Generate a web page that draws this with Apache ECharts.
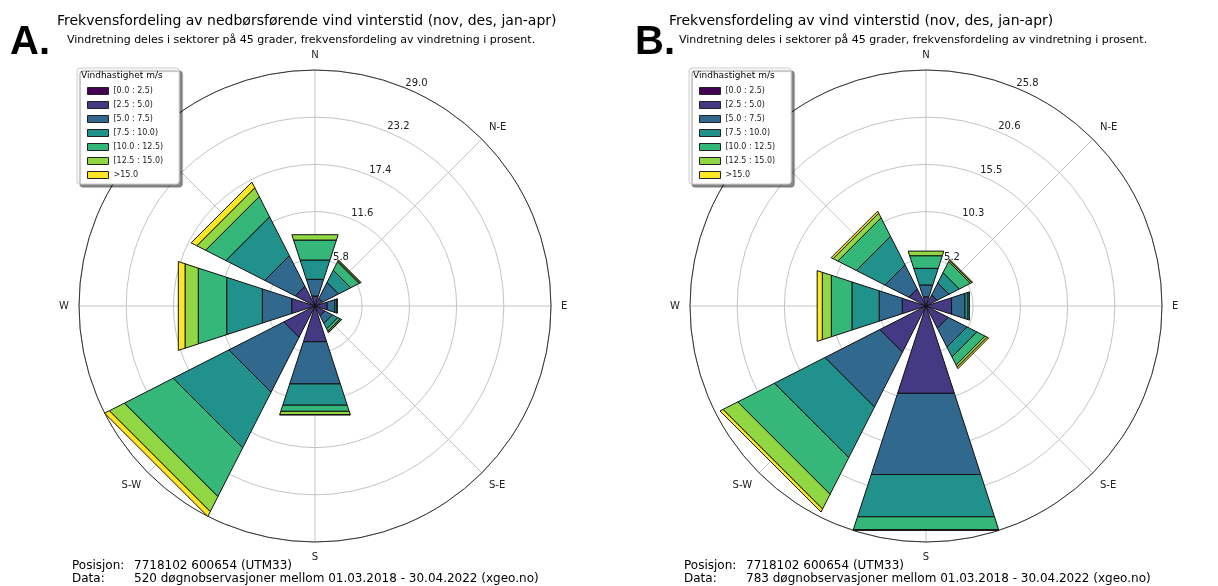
<!DOCTYPE html>
<html>
<head>
<meta charset="utf-8">
<title>Vindrose</title>
<script src="https://cdn.jsdelivr.net/npm/echarts@6/dist/echarts.min.js"></script>
<style>
html, body { margin: 0; padding: 0; background: #fff; }
#main { width: 1218px; height: 586px; }
</style>
</head>
<body>
<div id="main"></div>
<script>
var retninger = ['N', 'N-E', 'E', 'S-E', 'S', 'S-W', 'W', 'N-W'];
var vinkler = [0, 45, 90, 135, 180, 225, 270, 315];
var hastighet = ['[0.0 : 2.5)', '[2.5 : 5.0)', '[5.0 : 7.5)', '[7.5 : 10.0)', '[10.0 : 12.5)', '[12.5 : 15.0)', '>15.0'];
var farger = ['#440154', '#443983', '#31688e', '#21918c', '#35b779', '#90d743', '#fde725'];

// A: nedbørsførende vind, prosent per hastighetsklasse (N, N-E, E, S-E, S, S-W, W, N-W)
var nedbor0 = [0.1, 0.1, 0.1, 0.1, 0.1, 0.1, 0.1, 0.1];
var nedbor1 = [1.19, 0.95, 1.47, 1.26, 4.52, 4.21, 2.91, 2.63];
var nedbor2 = [2.16, 2.21, 1.0, 1.05, 5.45, 7.57, 3.79, 4.21];
var nedbor3 = [2.49, 1.68, 0.26, 0.74, 2.75, 7.68, 4.61, 5.36];
var nedbor4 = [2.58, 1.16, 0.05, 0.32, 0.79, 6.73, 3.67, 2.79];
var nedbor5 = [0.69, 0.16, 0, 0.16, 0.42, 2.07, 1.71, 1.21];
var nedbor6 = [0, 0.1, 0, 0.05, 0.05, 0.66, 0.87, 0.79];
var ringerA = [5.8, 11.6, 17.4, 23.2, 29.0];

// B: all vind
var vind0 = [0.1, 0.1, 0.1, 0.1, 0.1, 0.1, 0.1, 0.1];
var vind1 = [0.95, 1.26, 2.84, 2.63, 9.94, 5.57, 2.63, 2.0];
var vind2 = [1.37, 1.47, 1.54, 2.31, 9.33, 6.73, 2.65, 2.94];
var vind3 = [1.91, 1.26, 0.36, 1.21, 4.86, 6.2, 3.13, 3.51];
var vind4 = [1.45, 1.37, 0.15, 1.0, 1.47, 4.5, 2.37, 2.27];
var vind5 = [0.53, 0.16, 0, 0.26, 0.1, 1.81, 1.04, 0.58];
var vind6 = [0, 0.1, 0, 0.18, 0, 0.37, 0.59, 0.24];
var ringerB = [5.2, 10.3, 15.5, 20.6, 25.8];

var klasserA = [nedbor0, nedbor1, nedbor2, nedbor3, nedbor4, nedbor5, nedbor6];
var klasserB = [vind0, vind1, vind2, vind3, vind4, vind5, vind6];

var font = 'DejaVu Sans';

function tegnSektor(params, api) {
    var v = api.value(0);
    var r0 = api.value(1);
    var r1 = api.value(2);
    if (!(r1 > r0)) return;
    var halv = 18;
    return {
        type: 'polygon',
        shape: {
            points: [
                api.coord([r0, v - halv]),
                api.coord([r0, v + halv]),
                api.coord([r1, v + halv]),
                api.coord([r1, v - halv])
            ]
        },
        style: { fill: api.visual('color'), stroke: '#111', lineWidth: 1 }
    };
}

function lagSerier(klasser, polarIndex) {
    var serier = [];
    var sum = [0, 0, 0, 0, 0, 0, 0, 0];
    for (var b = 0; b < klasser.length; b++) {
        var data = [];
        for (var d = 0; d < vinkler.length; d++) {
            data.push([vinkler[d], sum[d], sum[d] + klasser[b][d]]);
            sum[d] += klasser[b][d];
        }
        serier.push({
            type: 'custom',
            name: hastighet[b],
            coordinateSystem: 'polar',
            polarIndex: polarIndex,
            itemStyle: { color: farger[b] },
            encode: { angle: 0, radius: 2 },
            renderItem: tegnSektor,
            data: data
        });
    }
    return serier;
}

function vinkelAkse(i, vis) {
    return {
        polarIndex: i,
        type: 'value',
        min: 0, max: 360, interval: 45,
        startAngle: vis ? 90 : 67.5,
        clockwise: true,
        show: vis,
        axisLine: { lineStyle: { color: '#333', width: 1 } },
        axisTick: { show: false },
        axisLabel: {
            margin: 10, fontSize: 10, color: '#222', fontFamily: font,
            formatter: function (v) { return v >= 360 ? '' : retninger[Math.round(v / 45) % 8]; }
        },
        splitLine: { show: true, lineStyle: { color: '#c4c4c4', width: 1 } }
    };
}

function radiusAkse(i, ringer, etiketter) {
    var maks = ringer[ringer.length - 1];
    return {
        polarIndex: i,
        type: 'value',
        z: etiketter ? 10 : 0,
        min: 0, max: maks, interval: maks / 5,
        axisLine: { show: false },
        axisTick: { show: false },
        axisLabel: {
            show: etiketter, showMinLabel: false, margin: 0,
            align: 'left', verticalAlign: 'bottom',
            fontSize: 10, color: '#222', fontFamily: font,
            formatter: function (v) {
                var k = Math.round(v / (maks / 5));
                return k > 0 ? ringer[k - 1].toFixed(1) : '';
            }
        },
        splitLine: { show: !etiketter, lineStyle: { color: '#c4c4c4', width: 1 } }
    };
}

function tekst(t, x, y, size, ekstra) {
    var stil = { fontSize: size, fontWeight: 'normal', color: '#000', fontFamily: font };
    for (var k in ekstra) stil[k] = ekstra[k];
    return { text: t, left: x, top: y, padding: 0, textStyle: stil };
}

function legende(x) {
    return {
        orient: 'vertical',
        left: x, top: 68,
        data: hastighet,
        icon: 'rect',
        itemWidth: 21, itemHeight: 7, itemGap: 6,
        padding: [19, 16, 5, 10],
        backgroundColor: '#fff',
        borderColor: '#ccc', borderWidth: 1, borderRadius: 3,
        shadowColor: 'rgba(0,0,0,0.45)', shadowOffsetX: 3, shadowOffsetY: 3, shadowBlur: 1,
        itemStyle: { borderColor: '#222', borderWidth: 1 },
        textStyle: { fontSize: 8, color: '#222', fontFamily: font },
        selectedMode: false
    };
}

var undertittel = 'Vindretning deles i sektorer på 45 grader, frekvensfordeling av vindretning i prosent.';

var option = {
    animation: false,
    backgroundColor: '#fff',
    title: [
        tekst('A.', 10, 23, 40, { fontWeight: 'bold', fontFamily: 'Liberation Sans' }),
        tekst('B.', 635, 23, 40, { fontWeight: 'bold', fontFamily: 'Liberation Sans' }),
        tekst('Frekvensfordeling av nedbørsførende vind vinterstid (nov, des, jan-apr)', 57, 14, 14),
        tekst('Frekvensfordeling av vind vinterstid (nov, des, jan-apr)', 669, 14, 14),
        tekst(undertittel, 67, 35, 11),
        tekst(undertittel, 679, 35, 11),
        tekst('Vindhastighet m/s', 81, 71, 9),
        tekst('Vindhastighet m/s', 693, 71, 9),
        tekst('Posisjon:\nData:', 72, 559, 12, { lineHeight: 13 }),
        tekst('7718102 600654 (UTM33)\n520 døgnobservasjoner mellom 01.03.2018 - 30.04.2022 (xgeo.no)', 134, 559, 12, { lineHeight: 13 }),
        tekst('Posisjon:\nData:', 684, 559, 12, { lineHeight: 13 }),
        tekst('7718102 600654 (UTM33)\n783 døgnobservasjoner mellom 01.03.2018 - 30.04.2022 (xgeo.no)', 746, 559, 12, { lineHeight: 13 })
    ],
    legend: [legende(77), legende(689)],
    polar: [
        { center: [315, 306], radius: 236 },
        { center: [926, 306], radius: 236 },
        { center: [315, 306], radius: 236 },
        { center: [926, 306], radius: 236 }
    ],
    angleAxis: [vinkelAkse(0, true), vinkelAkse(1, true), vinkelAkse(2, false), vinkelAkse(3, false)],
    radiusAxis: [radiusAkse(0, ringerA, false), radiusAkse(1, ringerB, false), radiusAkse(2, ringerA, true), radiusAkse(3, ringerB, true)],
    series: lagSerier(klasserA, 0).concat(lagSerier(klasserB, 1))
};

var chart = echarts.init(document.getElementById('main'));
chart.setOption(option);
</script>
</body>
</html>
